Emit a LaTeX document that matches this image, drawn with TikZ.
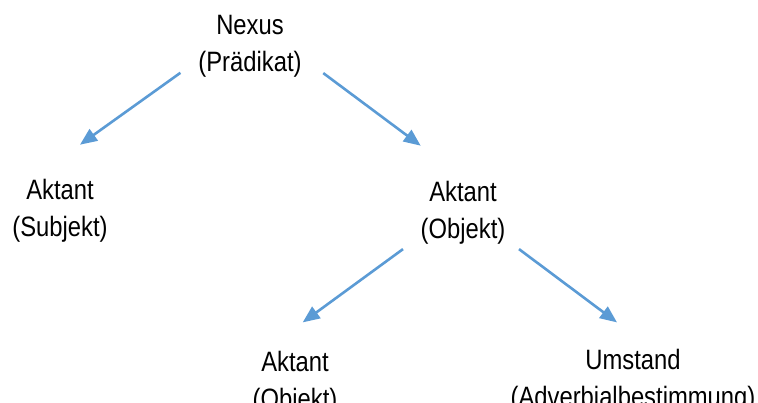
\documentclass[tikz,border=0pt]{standalone}
\usepackage{fontspec}
\setmainfont{Liberation Sans}[FakeStretch=0.85]
\usetikzlibrary{arrows.meta}
\definecolor{arrblue}{HTML}{5B9BD5}
\tikzset{
  lbl/.style={align=center, inner sep=0pt, font=\fontsize{28}{37}\selectfont},
  arr/.style={draw=arrblue, line width=2.6pt, -{Triangle[length=17pt,width=14pt]}}
}
\begin{document}
\begin{tikzpicture}[x=1pt, y=-1pt]
\useasboundingbox (0,0) rectangle (758,402);
\node[lbl] (nexus) at (250,46) {\strut Nexus\\\strut (Prädikat)};
\node[lbl] (subj) at (60,211) {\strut Aktant\\\strut (Subjekt)};
\node[lbl] (objm) at (463,213) {\strut Aktant\\\strut (Objekt)};
\node[lbl] (objb) at (295,383) {\strut Aktant\\\strut (Objekt)};
\node[lbl] (umst) at (633,381) {\strut Umstand\\\strut (Adverbialbestimmung)};
\coordinate (s1) at ([shift={(-17.8,-10.4)}]nexus.south west);
\coordinate (e1) at ([shift={(20,-29.1)}]subj.north);
\coordinate (s2) at ([shift={(21.5,-10.1)}]nexus.south east);
\coordinate (e2) at ([shift={(-42.3,-30.1)}]objm.north);
\coordinate (s3) at ([shift={(-60,-1.1)}]objm.south);
\coordinate (e3) at ([shift={(7.7,-23.4)}]objb.north);
\coordinate (s4) at ([shift={(56,-1.1)}]objm.south);
\coordinate (e4) at ([shift={(-16,-21.4)}]umst.north);
\draw[arr] (s1) -- (e1);
\draw[arr] (s2) -- (e2);
\draw[arr] (s3) -- (e3);
\draw[arr] (s4) -- (e4);
\end{tikzpicture}
\end{document}
